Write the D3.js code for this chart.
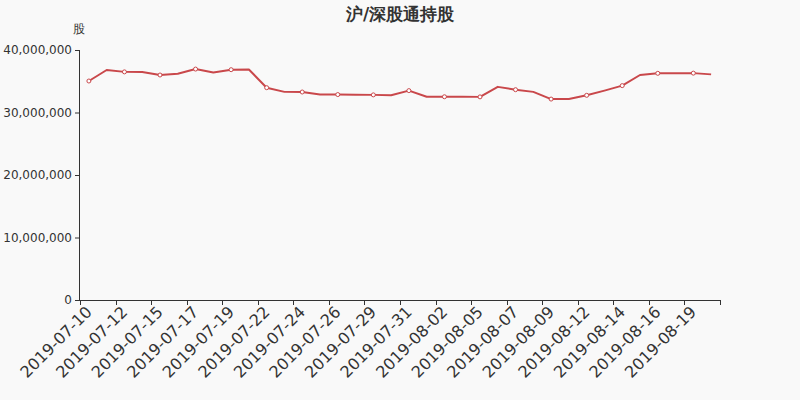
<!DOCTYPE html>
<html>
<head>
<meta charset="utf-8">
<script src="https://cdn.jsdelivr.net/npm/d3@7/dist/d3.min.js"></script>
<style>
  html, body { margin: 0; padding: 0; background: #f9f9f9; }
  svg { display: block; }
  text { font-family: "DejaVu Sans", sans-serif; }
</style>
</head>
<body>
<svg id="chart" width="800" height="400"></svg>
<script>
const title = "沪/深股通持股";
const unitLabel = "股";
const dates = [
  "2019-07-10","2019-07-11","2019-07-12","2019-07-14","2019-07-15","2019-07-16",
  "2019-07-17","2019-07-18","2019-07-19","2019-07-21","2019-07-22","2019-07-23",
  "2019-07-24","2019-07-25","2019-07-26","2019-07-28","2019-07-29","2019-07-30",
  "2019-07-31","2019-08-01","2019-08-02","2019-08-04","2019-08-05","2019-08-06",
  "2019-08-07","2019-08-08","2019-08-09","2019-08-11","2019-08-12","2019-08-13",
  "2019-08-14","2019-08-15","2019-08-16","2019-08-18","2019-08-19","2019-08-20"
];
const holdings = [
  35040000, 36800000, 36500000, 36480000, 36000000, 36200000,
  36950000, 36400000, 36850000, 36880000, 33970000, 33300000,
  33280000, 32880000, 32870000, 32850000, 32820000, 32750000,
  33500000, 32520000, 32520000, 32510000, 32500000, 34100000,
  33650000, 33300000, 32150000, 32160000, 32750000, 33500000,
  34300000, 36000000, 36270000, 36280000, 36300000, 36100000
];
const yTicks = [0, 10000000, 20000000, 30000000, 40000000];

(function () {
const svg = d3.select("#chart");
const mLeft = 80, mRight = 720, mTop = 50, mBottom = 300;
const lineColor = "#c9484b";

const x = d3.scaleBand().domain(dates).range([mLeft, mRight]).padding(0);
const y = d3.scaleLinear().domain([0, 40000000]).range([mBottom, mTop]);

svg.append("text")
  .attr("x", 400).attr("y", 20)
  .attr("text-anchor", "middle")
  .attr("font-size", 17).attr("font-weight", "bold")
  .attr("fill", "#333")
  .text(title);

svg.append("text")
  .attr("x", 79).attr("y", 33)
  .attr("text-anchor", "middle")
  .attr("font-size", 12).attr("fill", "#333")
  .text(unitLabel);

const yAxis = d3.axisLeft(y).tickValues(yTicks).tickSize(5).tickPadding(3)
  .tickFormat(d3.format(","));
const gy = svg.append("g").attr("transform", `translate(${mLeft},0)`).call(yAxis);
gy.select(".domain").attr("stroke", "#333").attr("d", `M-0.5,${mTop}V${mBottom}`);
gy.selectAll(".tick line").attr("stroke", "#333");
gy.selectAll(".tick text").attr("fill", "#333").attr("font-size", 12)
  .attr("font-family", "DejaVu Sans, sans-serif");

const gx = svg.append("g");
gx.append("line").attr("x1", mLeft).attr("x2", mRight).attr("y1", mBottom + 0.5).attr("y2", mBottom + 0.5)
  .attr("stroke", "#333");
const tickIdx = dates.map((d, i) => i).filter(i => i % 2 === 0);
gx.selectAll("line.tk").data(tickIdx.map(i => x(dates[i])).concat([mRight]))
  .enter().append("line").attr("class", "tk")
  .attr("x1", d => Math.round(d) + 0.5).attr("x2", d => Math.round(d) + 0.5)
  .attr("y1", mBottom).attr("y2", mBottom + 5).attr("stroke", "#333");
gx.selectAll("text.lb").data(tickIdx)
  .enter().append("text").attr("class", "lb")
  .attr("transform", i => `translate(${x(dates[i]) + x.bandwidth() / 2},${mBottom + 9}) rotate(-45)`)
  .attr("text-anchor", "end")
  .attr("dy", "0.35em")
  .attr("font-size", 16).attr("fill", "#333")
  .text(i => dates[i]);

const cx = d => x(d) + x.bandwidth() / 2;
const line = d3.line().x((v, i) => cx(dates[i])).y(v => y(v));
svg.append("path").datum(holdings)
  .attr("d", line).attr("fill", "none")
  .attr("stroke", lineColor).attr("stroke-width", 2).attr("stroke-linejoin", "round");

svg.selectAll("circle.pt").data(holdings.map((v, i) => ({v, i})).filter(d => d.i % 2 === 0))
  .enter().append("circle").attr("class", "pt")
  .attr("cx", d => cx(dates[d.i])).attr("cy", d => y(d.v))
  .attr("r", 2).attr("fill", "#fff").attr("stroke", lineColor).attr("stroke-width", 1);
})();
</script>
</body>
</html>
